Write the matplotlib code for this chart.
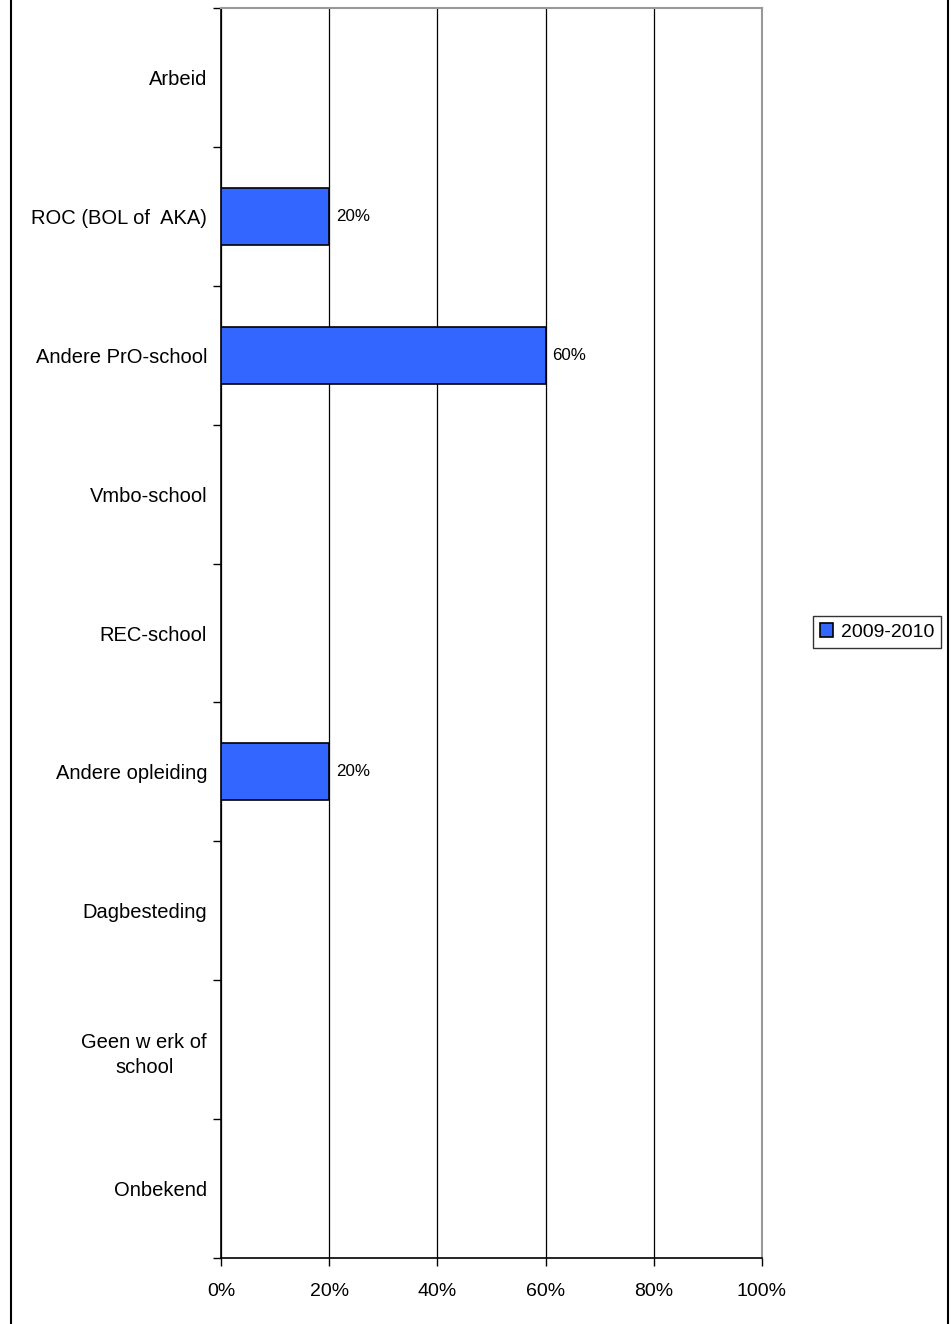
import matplotlib
matplotlib.use("Agg")
import matplotlib.pyplot as plt
from matplotlib.lines import Line2D
from matplotlib.ticker import FixedLocator, NullFormatter

# categories top to bottom
categories = ["Arbeid", "ROC (BOL of  AKA)", "Andere PrO-school", "Vmbo-school",
              "REC-school", "Andere opleiding", "Dagbesteding",
              "Geen w erk of\nschool", "Onbekend"]
values = [0, 20, 60, 0, 0, 20, 0, 0, 0]
series_name = "2009-2010"
x_ticks = [0, 20, 40, 60, 80, 100]

plt.rcParams['font.family'] = ['Liberation Sans', 'DejaVu Sans']

fig = plt.figure(figsize=(9.52, 13.24), dpi=100)
ax = fig.add_axes([221 / 952, 1 - 1258 / 1324, (762 - 221) / 952, (1258 - 8) / 1324])

pos = list(range(len(categories)))
bars = ax.barh(pos, values, height=0.41, color="#3366FF", edgecolor="black",
               linewidth=1.2, label=series_name, zorder=3)

# value labels only for non-zero bars
for b, v in zip(bars, values):
    if v > 0:
        ax.annotate(f"{v}%", (b.get_width(), b.get_y() + b.get_height() / 2),
                    xytext=(5, 0), textcoords="offset points",
                    va="center", ha="left", fontsize=12.2)

ax.set_ylim(len(categories) - 0.5, -0.5)
ax.set_xlim(0, 100)

# category labels centred, tick marks at the boundaries
ax.set_yticks(pos)
ax.set_yticklabels(categories, fontsize=14.5, ha="right", multialignment="center",
                   linespacing=1.45)
ax.tick_params(axis="y", which="major", length=0, pad=10)
ax.yaxis.set_minor_locator(FixedLocator([k - 0.5 for k in range(len(categories) + 1)]))
ax.yaxis.set_minor_formatter(NullFormatter())
ax.tick_params(axis="y", which="minor", length=6, width=1, direction="out")

ax.set_xticks(x_ticks)
ax.set_xticklabels([f"{t}%" for t in x_ticks], fontsize=14)
ax.tick_params(axis="x", length=6, width=1, direction="out", pad=12)
ax.grid(axis="x", color="black", linewidth=0.9, zorder=0)

for side in ["top", "right"]:
    ax.spines[side].set_color("#999999")
    ax.spines[side].set_linewidth(1.5)
for side in ["left", "bottom"]:
    ax.spines[side].set_color("black")
    ax.spines[side].set_linewidth(1.2)

leg = ax.legend(loc="center left", bbox_to_anchor=(813 / 952, 1 - 632 / 1324),
                bbox_transform=fig.transFigure, fontsize=14, frameon=True,
                fancybox=False, edgecolor="black", handlelength=0.7,
                handleheight=0.7, handletextpad=0.4, borderpad=0.35,
                borderaxespad=0)
leg.get_frame().set_linewidth(1)

# outer chart frame (left and right edges)
fig.add_artist(Line2D([11 / 952, 11 / 952], [0, 1], color="black", linewidth=1.5,
                      transform=fig.transFigure))
fig.add_artist(Line2D([948 / 952, 948 / 952], [0, 1], color="black", linewidth=1.5,
                      transform=fig.transFigure))

fig.savefig("out.png", dpi=100)
